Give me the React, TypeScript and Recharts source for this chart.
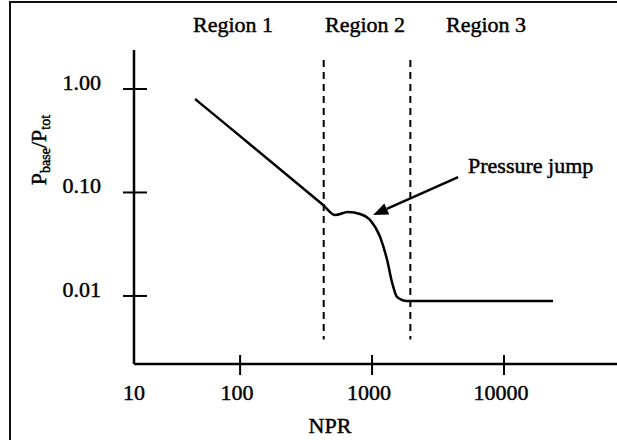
import { LineChart, Line, XAxis, YAxis, ReferenceLine } from 'recharts';

// curve (NPR, Pbase/Ptot)
const nprValues = [45.6, 100, 426, 525, 658, 811, 966, 1150, 1300, 1420, 1546, 1840, 23500];
const pRatioValues = [0.8, 0.35, 0.0757, 0.0606, 0.0648, 0.062, 0.0542, 0.0372, 0.0223, 0.0134, 0.00978, 0.00895, 0.00895];

// the "10" label sits at the axis origin
const xTicks = [15.7, 100, 1000, 10000];
const xTickLabels = ['10', '100', '1000', '10000'];
const yTicks = [1, 0.1, 0.01];
const yTickLabels = ['1.00', '0.10', '0.01'];

const regionBounds = [430, 1950];
const regionNames = ['Region 1', 'Region 2', 'Region 3'];

const data = nprValues.map((npr, i) => ({ npr, ratio: pRatioValues[i] }));

const FONT = '"Liberation Serif", "Times New Roman", serif';
const textStyle = { stroke: '#000', strokeWidth: 0.45 };

function XTick({ x, y, payload }: { x?: number; y?: number; payload?: { value: number } }) {
  const i = xTicks.indexOf(payload!.value);
  return (
    <g>
      {i > 0 && <line x1={x} x2={x} y1={y! - 9} y2={y! + 11} stroke="#000" strokeWidth={2} />}
      <text x={x! - (i > 0 ? 3 : 0)} y={y! + 36} textAnchor="middle" fontSize={22} fontFamily={FONT} fill="#000" style={textStyle}>
        {xTickLabels[i]}
      </text>
    </g>
  );
}

function YTick({ x, y, payload }: { x?: number; y?: number; payload?: { value: number } }) {
  const i = yTicks.indexOf(payload!.value);
  return (
    <g>
      <line x1={x! - 11} x2={x! + 13} y1={y} y2={y} stroke="#000" strokeWidth={2} />
      <text x={x! - 33} y={y! + 1} textAnchor="end" fontSize={22} fontFamily={FONT} fill="#000" style={textStyle}>
        {yTickLabels[i]}
      </text>
    </g>
  );
}

function Arrow(props: { x1?: number; y1?: number; x2?: number; y2?: number }) {
  const { x1 = 0, y1 = 0, x2 = 0, y2 = 0 } = props;
  const a = Math.atan2(y2 - y1, x2 - x1);
  const len = 15;
  const w = 6;
  const bx = x2 - len * Math.cos(a);
  const by = y2 - len * Math.sin(a);
  const px = -Math.sin(a) * w;
  const py = Math.cos(a) * w;
  return (
    <g>
      <line x1={x1} y1={y1} x2={bx} y2={by} stroke="#000" strokeWidth={2.5} />
      <polygon points={`${x2},${y2} ${bx + px},${by + py} ${bx - px},${by - py}`} fill="#000" />
    </g>
  );
}

export default function App() {
  return (
    <div style={{ position: 'absolute', left: 0, top: 0, width: 617, height: 440, overflow: 'hidden', background: '#fff' }}>
      <div
        style={{
          position: 'absolute',
          left: 9,
          top: 1,
          width: 640,
          height: 460,
          borderLeft: '2px solid #111',
          borderTop: '2px solid #111',
        }}
      />
      <div style={{ position: 'absolute', left: 0, top: 0 }}>
        <LineChart width={617} height={440} data={data} margin={{ top: 50, right: 0, bottom: 0, left: 0 }}>
          <XAxis
            dataKey="npr"
            type="number"
            scale="log"
            domain={[15.7, 71800]}
            ticks={xTicks}
            allowDataOverflow
            height={76}
            tickSize={0}
            tickMargin={0}
            tickLine={false}
            axisLine={{ stroke: '#000', strokeWidth: 2.5 }}
            tick={<XTick />}
          />
          <YAxis
            dataKey="ratio"
            type="number"
            scale="log"
            domain={[0.0022, 2.38]}
            ticks={yTicks}
            allowDataOverflow
            width={134}
            tickSize={0}
            tickMargin={0}
            tickLine={false}
            axisLine={{ stroke: '#000', strokeWidth: 2.5 }}
            tick={<YTick />}
          />
          {regionBounds.map((b) => (
            <ReferenceLine
              key={b}
              segment={[{ x: b, y: 1.9 }, { x: b, y: 0.0038 }]}
              stroke="#000"
              strokeWidth={2}
              strokeDasharray="7 5"
            />
          ))}
          <ReferenceLine
            segment={[{ x: 4490, y: 0.141 }, { x: 1018, y: 0.0605 }]}
            shape={(p: any) => <Arrow {...p} />}
          />
          <Line
            type="monotone"
            dataKey="ratio"
            stroke="#000"
            strokeWidth={2.5}
            dot={false}
            isAnimationActive={false}
          />
        </LineChart>
      </div>
      <svg width={617} height={440} style={{ position: 'absolute', left: 0, top: 0, pointerEvents: 'none' }}>
        <g fontFamily={FONT} fontSize={22} fill="#000" style={textStyle}>
          <text x={233} y={32} textAnchor="middle">{regionNames[0]}</text>
          <text x={365} y={32} textAnchor="middle">{regionNames[1]}</text>
          <text x={486} y={32} textAnchor="middle">{regionNames[2]}</text>
          <text x={468} y={173}>Pressure jump</text>
          <text x={330} y={433} textAnchor="middle">NPR</text>
          <text x={46} y={150} textAnchor="middle" transform="rotate(-90 46 150)">
            P<tspan fontSize={14} dy={4}>base</tspan>
            <tspan dy={-4}>/P</tspan>
            <tspan fontSize={14} dy={4}>tot</tspan>
          </text>
        </g>
      </svg>
    </div>
  );
}
